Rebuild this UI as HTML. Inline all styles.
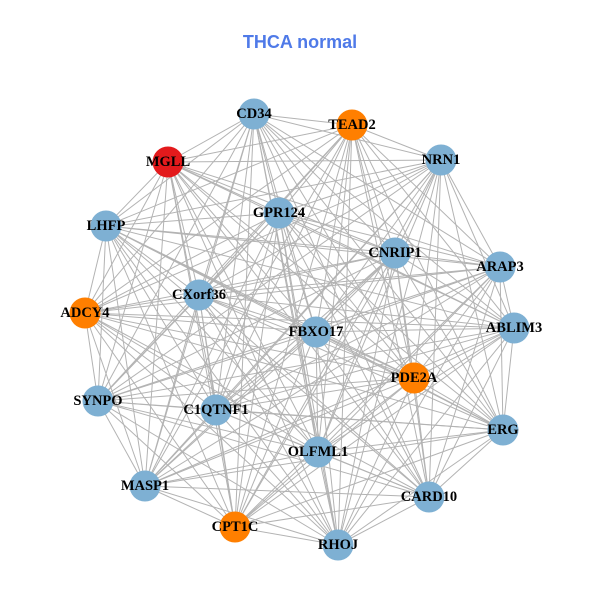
<!DOCTYPE html>
<html><head><meta charset="utf-8"><style>
html,body{margin:0;padding:0;background:#fff;}
svg{display:block;}
text.l{font-family:"Liberation Serif",serif;font-weight:bold;font-size:14.5px;fill:#000;text-anchor:middle;dominant-baseline:central;}
</style></head><body>
<svg id="s" width="600" height="600" viewBox="0 0 600 600">
<text x="300" y="42" text-anchor="middle" dominant-baseline="central" style="font-family:'Liberation Sans',sans-serif;font-weight:bold;font-size:18px;fill:#4f7ae8">THCA normal</text>
<g id="e" stroke="#b3b3b3" stroke-width="1"></g>
<g id="n"></g>
</svg>
<script>
var N=[["CD34",254,114,"b"],["TEAD2",352,125,"o"],["MGLL",168,162,"r"],["NRN1",441,160,"b"],["LHFP",106,226,"b"],["GPR124",279,213,"b"],["CNRIP1",395,253,"b"],["ARAP3",500,267,"b"],["CXorf36",199,295,"b"],["ADCY4",85,313,"o"],["FBXO17",316,332,"b"],["ABLIM3",514,328,"b"],["PDE2A",414,378,"o"],["SYNPO",98,401,"b"],["C1QTNF1",216,410,"b"],["ERG",503,430,"b"],["OLFML1",318,452,"b"],["MASP1",145,486,"b"],["CARD10",429,497,"b"],["CPT1C",235,527,"o"],["RHOJ",338,545,"b"]];
var C={b:"#7eb0d3",o:"#ff7f00",r:"#e31a1c"};
var ns="http://www.w3.org/2000/svg",e=document.getElementById("e"),g=document.getElementById("n");
for(var i=0;i<N.length;i++)for(var j=i+1;j<N.length;j++){var l=document.createElementNS(ns,"line");l.setAttribute("x1",N[i][1]);l.setAttribute("y1",N[i][2]);l.setAttribute("x2",N[j][1]);l.setAttribute("y2",N[j][2]);e.appendChild(l);}
N.forEach(function(d){var c=document.createElementNS(ns,"circle");c.setAttribute("cx",d[1]);c.setAttribute("cy",d[2]);c.setAttribute("r",15.5);c.setAttribute("fill",C[d[3]]);g.appendChild(c);});
N.forEach(function(d){var t=document.createElementNS(ns,"text");t.setAttribute("x",d[1]);t.setAttribute("y",d[2]);t.setAttribute("class","l");t.textContent=d[0];g.appendChild(t);});
</script>
</body></html>
